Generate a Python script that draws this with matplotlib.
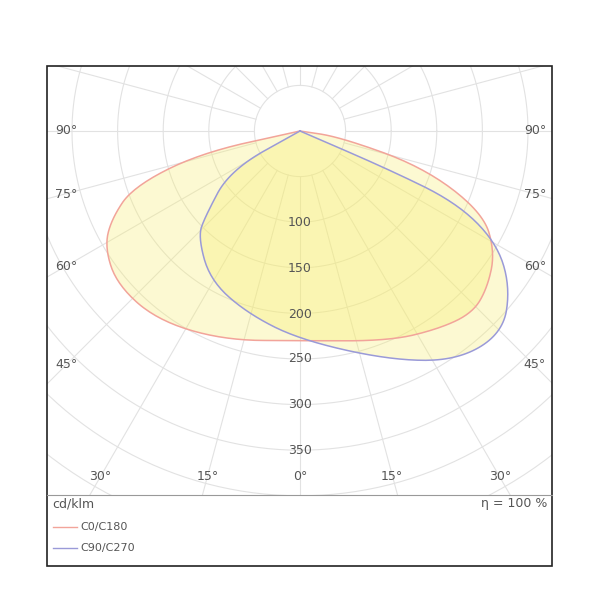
import numpy as np
import matplotlib
matplotlib.use("Agg")
import matplotlib.pyplot as plt
from matplotlib.patches import Rectangle
from matplotlib.lines import Line2D

# C0/C180, gamma in degrees (negative = left), intensity cd/klm
c0_gamma = [-90, -77.6, -71.5, -65, -59.3, -50, -37, -20, 0, 23, 35, 43.5, 50, 58, 65.9, 73.7, 81.5, 90]
c0_int   = [0, 112, 193, 228, 249, 262, 260, 244, 230, 250, 265, 275, 268, 252, 220, 141, 44, 0]
# C90/C270
c90_gamma = [-90, -60.9, -47.8, -43.9, -31.1, -16.2, 0, 21.5, 34.4, 45.1, 53.4, 60.4, 65.4, 66.6, 90]
c90_int   = [0, 88, 141, 161, 191, 208, 229, 270, 305, 314, 287, 248, 189, 107, 0]

radii = [50, 100, 150, 200, 250, 300, 350, 400, 450, 500]
r_labels = [100, 150, 200, 250, 300, 350]
S = 0.912
def px(x, y):
    return (x - 300) / S, -(y - 131) / S

def to_xy(g, r):
    g = np.radians(g)
    r = np.asarray(r, float)
    return r * np.sin(g), -r * np.cos(g)

def chaikin(x, y, n=4):
    P = np.column_stack([x, y])
    for _ in range(n):
        Q = [P[0]]
        for a, b in zip(P[:-1], P[1:]):
            Q.append(0.75*a + 0.25*b)
            Q.append(0.25*a + 0.75*b)
        Q.append(P[-1])
        P = np.array(Q)
    return P[:, 0], P[:, 1]

fig = plt.figure(figsize=(6, 6), dpi=100)
ax = fig.add_axes([47/600, 1-495/600, 505/600, 429/600])
x0, y0 = px(47, 495); x1, y1 = px(552, 66)
ax.set_xlim(x0, x1); ax.set_ylim(y0, y1)
ax.axis('off')

gc = '#e2e2e2'
t = np.linspace(0, 2*np.pi, 400)
for r in radii:
    ax.plot(r*np.cos(t), r*np.sin(t), color=gc, lw=0.8, zorder=1)
for a in range(0, 360, 15):
    ar = np.radians(a)
    ax.plot([50*np.sin(ar), 700*np.sin(ar)], [-50*np.cos(ar), -700*np.cos(ar)], color=gc, lw=0.8, zorder=1)

xa, ya = chaikin(*to_xy(c0_gamma, c0_int))
xb, yb = chaikin(*to_xy(c90_gamma, c90_int))
ax.fill(xa, ya, color='#f8ee6a', alpha=0.3, lw=0, zorder=2)
ax.fill(xb, yb, color='#f8ee6a', alpha=0.3, lw=0, zorder=2)
ax.plot(xa, ya, color='#f2a49a', lw=1.1, zorder=3)
ax.plot(xb, yb, color='#9a9ad8', lw=1.1, zorder=3)

lc = '#555555'
fs = 9
for r, yp in zip(r_labels, [222, 268, 314, 359, 405, 450]):
    ax.text(*px(300, yp), str(r), ha='center', va='center', fontsize=fs, color=lc, zorder=4)
for lab, yp in [('90°', 131), ('75°', 195), ('60°', 267), ('45°', 365)]:
    ax.text(*px(66, yp), lab, ha='center', va='center', fontsize=fs, color=lc)
    ax.text(*px(535, yp), lab, ha='center', va='center', fontsize=fs, color=lc)
for lab, xp in [('30°', 100), ('15°', 208), ('0°', 300), ('15°', 392), ('30°', 500)]:
    ax.text(*px(xp, 476), lab, ha='center', va='center', fontsize=fs, color=lc)

fig.add_artist(Rectangle((47/600, 1-566/600), 505/600, 500/600, transform=fig.transFigure,
                         fill=False, ec='#222222', lw=1.2))
fig.add_artist(Line2D([47/600, 552/600], [1-495/600]*2, transform=fig.transFigure, color='#999999', lw=0.8))
fig.text(52/600, 1-504/600, 'cd/klm', fontsize=fs, color=lc, va='center')
fig.text(547/600, 1-504/600, 'η = 100 %', fontsize=fs, color=lc, va='center', ha='right')
fig.add_artist(Line2D([53/600, 77/600], [1-527/600]*2, transform=fig.transFigure, color='#f2a49a', lw=1))
fig.add_artist(Line2D([53/600, 77/600], [1-548/600]*2, transform=fig.transFigure, color='#9a9ad8', lw=1))
fig.text(80/600, 1-527/600, 'C0/C180', fontsize=fs-1, color=lc, va='center')
fig.text(80/600, 1-548/600, 'C90/C270', fontsize=fs-1, color=lc, va='center')

fig.savefig('out.png', dpi=100)
